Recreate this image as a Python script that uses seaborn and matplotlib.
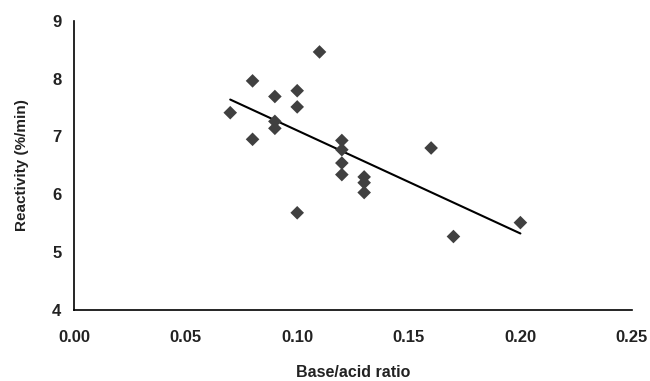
import matplotlib
matplotlib.use("Agg")
import matplotlib.pyplot as plt
import seaborn as sns
import numpy as np
import pandas as pd

base_acid = [0.07, 0.08, 0.08, 0.09, 0.09, 0.09, 0.10, 0.10, 0.10, 0.11,
             0.12, 0.12, 0.12, 0.12, 0.13, 0.13, 0.13, 0.16, 0.17, 0.20]
reactivity = [7.41, 7.96, 6.95, 7.69, 7.26, 7.14, 7.79, 7.51, 5.68, 8.46,
              6.93, 6.77, 6.54, 6.34, 6.30, 6.20, 6.03, 6.80, 5.27, 5.51]
x_ticks = [0.00, 0.05, 0.10, 0.15, 0.20, 0.25]
y_ticks = [4, 5, 6, 7, 8, 9]

df = pd.DataFrame({"Base/acid ratio": base_acid, "Reactivity (%/min)": reactivity})

sns.set_style("white")
plt.rcParams["font.family"] = ["Liberation Sans", "DejaVu Sans"]

fig = plt.figure(figsize=(6.5, 3.81), dpi=100)
ax = fig.add_axes([74/650, 1 - 310/381, (632 - 74)/650, (310 - 20.7)/381])

sns.regplot(data=df, x="Base/acid ratio", y="Reactivity (%/min)", ax=ax,
            scatter=False, ci=None, color="black", line_kws={"linewidth": 1.5})
sns.scatterplot(data=df, x="Base/acid ratio", y="Reactivity (%/min)", ax=ax,
                marker="D", s=48, color="#404040", edgecolor="none", zorder=3)

ax.set_xlim(0, 0.25)
ax.set_ylim(4, 9)
ax.set_xticks(x_ticks)
ax.set_xticklabels([f"{v:.2f}" for v in x_ticks])
ax.set_yticks(y_ticks)
ax.set_yticklabels([str(v) for v in y_ticks])
ax.tick_params(axis="both", length=0, labelsize=12, colors="#222222")
ax.tick_params(axis="x", pad=14.5)
ax.tick_params(axis="y", pad=9)
for lbl in ax.get_xticklabels() + ax.get_yticklabels():
    lbl.set_fontweight("bold")

for side in ["top", "right"]:
    ax.spines[side].set_visible(False)
for side in ["left", "bottom"]:
    ax.spines[side].set_color("black")
    ax.spines[side].set_linewidth(1.2)

ax.set_xlabel("Base/acid ratio", fontsize=11.5, fontweight="bold", color="#222222", labelpad=14)
ax.set_ylabel("Reactivity (%/min)", fontsize=11, fontweight="bold", color="#222222", labelpad=17)

fig.savefig("out.png", dpi=100)
